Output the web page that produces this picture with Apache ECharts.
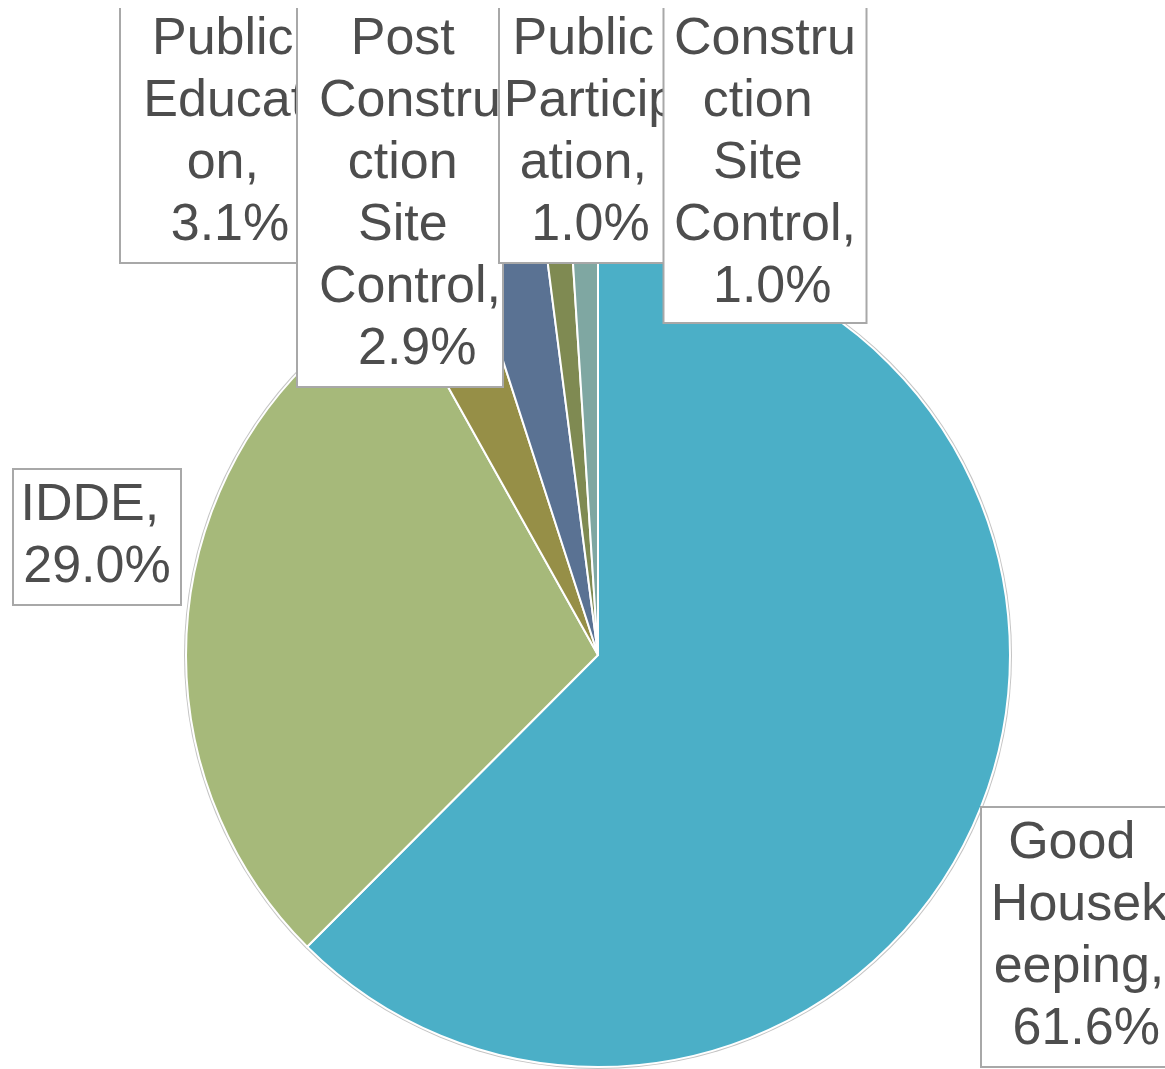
<!DOCTYPE html>
<html>
<head>
<meta charset="utf-8">
<script src="https://cdn.jsdelivr.net/npm/echarts@6/dist/echarts.min.js"></script>
<style>
html,body{margin:0;padding:0;background:#fff;}
#chart{width:1165px;height:1069px;}
</style>
</head>
<body>
<div id="chart"></div>
<script>
// ---- data ----
var categories = ['Good Housekeeping', 'IDDE', 'Public Education', 'Post Construction Site Control', 'Public Participation', 'Construction Site Control'];
var shares = [61.6, 29.0, 3.1, 2.9, 1.0, 1.0];

// ---- styles ----
var colors = ['#4BAFC7', '#A6B97A', '#968F47', '#5A7293', '#7F8A52', '#7FA7A2'];
// label boxes: x = box centre, y = box top, w = text width, pad = [top, right, bottom, left]
var labelBoxes = [
  {x: 1079, y: 808, w: 178, pad: [5, 8, 5, 8]},
  {x: 97,   y: 470, w: 154, pad: [5, 6, 5, 6]},
  {x: 230,  y: 4,   w: 198, pad: [5, 10, 5, 10]},
  {x: 400,  y: 4,   w: 184, pad: [5, 0, 5, 20]},
  {x: 593,  y: 4,   w: 175, pad: [5, 8, 5, 3]},
  {x: 765,  y: 4,   w: 185, pad: [5, 8, 3, 8]}
];

var data = categories.map(function (name, i) {
  return {
    name: name,
    value: shares[i],
    itemStyle: {color: colors[i]},
    label: {width: labelBoxes[i].w, padding: labelBoxes[i].pad}
  };
});

var chart = echarts.init(document.getElementById('chart'), null, {renderer: 'canvas'});
chart.setOption({
  animation: false,
  backgroundColor: '#fff',
  series: [
    {
      type: 'pie',
      silent: true,
      center: [598, 655],
      radius: 414,
      z: 1,
      data: [{value: 1, itemStyle: {color: '#c4c4c4'}}],
      label: {show: false},
      labelLine: {show: false}
    },
    {
      type: 'pie',
      center: [598, 655],
      radius: 412,
      startAngle: 90,
      clockwise: true,
      z: 2,
      avoidLabelOverlap: false,
      itemStyle: {borderColor: '#ffffff', borderWidth: 2},
      labelLine: {show: false},
      label: {
        show: true,
        position: 'outside',
        formatter: function (p) { return p.name + ', ' + p.value.toFixed(1) + '%'; },
        fontFamily: 'Liberation Sans, Arial, sans-serif',
        fontSize: 52,
        lineHeight: 62,
        color: '#4d4d4d',
        overflow: 'break',
        align: 'center',
        backgroundColor: '#ffffff',
        borderColor: '#a8a8a8',
        borderWidth: 2
      },
      labelLayout: function (params) {
        var b = labelBoxes[params.dataIndex];
        return {x: b.x, y: b.y, align: 'center', verticalAlign: 'top', hideOverlap: false, moveOverlap: false};
      },
      data: data
    }
  ],
  graphic: [
    {type: 'rect', z: 100, left: 0, top: 0, shape: {width: 1165, height: 8}, style: {fill: '#ffffff'}}
  ]
});
</script>
</body>
</html>
